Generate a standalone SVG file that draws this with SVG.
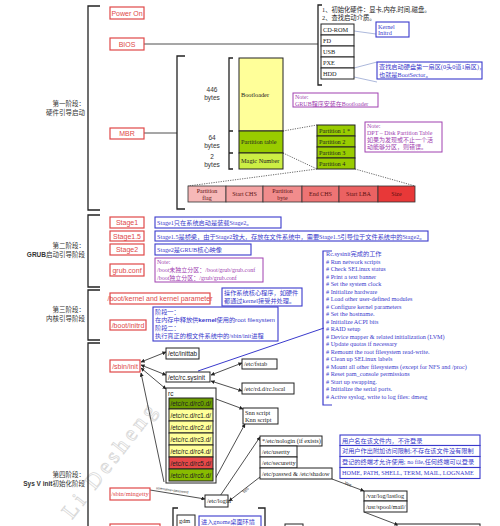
<svg xmlns="http://www.w3.org/2000/svg" width="500" height="526" viewBox="0 0 500 526">
<style>
.bg{fill:#fff}
.rb{fill:#fff;stroke:#e04848;stroke-width:1.2}
.rt{font-family:"Liberation Sans",Arial,sans-serif;font-size:7px;fill:#e04848;text-anchor:middle}
.rs{font-family:"Liberation Serif",serif;font-size:6.5px;fill:#e04848;text-anchor:middle}
.bb{fill:#fff;stroke:#3a3acc;stroke-width:1.1}
.bt{font-family:"Liberation Serif","Noto Sans CJK SC",serif;font-size:6.2px;fill:#3a3acc}
.pb{fill:#fff;stroke:#a040b0;stroke-width:1}
.pt{font-family:"Liberation Serif","Noto Sans CJK SC",serif;font-size:6px;fill:#a040b0}
.kb{stroke:#222;stroke-width:1}
.kt{font-family:"Liberation Serif","Noto Sans CJK SC",serif;font-size:6.3px;fill:#222}
.rcs{font-family:"Liberation Sans",Arial,sans-serif;font-size:6.4px;fill:#222}
.st{font-family:"Liberation Sans",Arial,sans-serif;font-size:6.5px;fill:#333;text-anchor:middle}
.lab{font-family:"Noto Sans CJK SC","Liberation Sans",sans-serif;font-size:6.5px;fill:#333;text-anchor:end}
.br{fill:none;stroke:#222;stroke-width:1.3}
.ln{fill:none;stroke:#222;stroke-width:0.8}
.dot{fill:none;stroke:#444;stroke-width:0.8;stroke-dasharray:1.2,1.2}
.thin{fill:none;stroke:#8899cc;stroke-width:0.7}
.pe{stroke:#333;stroke-width:0.8}
.pet{font-family:"Liberation Serif",serif;font-size:6px;fill:#5a1010;text-anchor:middle}
.wm{font-family:"Liberation Serif",serif;font-size:22px;fill:none;stroke:#d8d8d8;stroke-width:0.8;letter-spacing:4px}
</style>
<defs>
<marker id="ah" viewBox="0 0 10 10" refX="9" refY="5" markerWidth="5" markerHeight="5" orient="auto-start-reverse">
<path d="M0,0 L10,5 L0,10 z" fill="#222"/>
</marker>
</defs>
<rect class="bg" x="0" y="0" width="500" height="526"/>
<text class="wm" transform="translate(72,520) rotate(-52)">Li Desheng</text>

<g id="stage-brackets">
<path class="br" d="M100,6 H88 V210 H100"/>
<path class="br" d="M100,215 H88 V287 H100"/>
<path class="br" d="M100,290 H88 V340 H100"/>
<path class="br" d="M100,343 H88 V526"/>
<text class="lab" x="85" y="106">第一阶段：</text>
<text class="lab" x="85" y="115">硬件引导启动</text>
<text class="lab" x="85" y="248">第二阶段：</text>
<text class="lab" x="85" y="257"><tspan font-weight="bold" font-family="Liberation Sans,sans-serif">GRUB</tspan>启动引导阶段</text>
<text class="lab" x="85" y="312">第三阶段：</text>
<text class="lab" x="85" y="321">内核引导阶段</text>
<text class="lab" x="85" y="477">第四阶段：</text>
<text class="lab" x="85" y="486"><tspan font-weight="bold" font-family="Liberation Sans,sans-serif">Sys V init</tspan>初始化阶段</text>
</g>

<g id="connectors">
<path class="ln" d="M144,44 H318"/>
<path class="br" d="M322,5 H318 V85 H322"/>
<path class="thin" d="M354,31 L376,34"/>
<path class="thin" d="M354,68 L377,62"/>
<path class="thin" d="M354,77 L377,82"/>
<path class="ln" d="M144,133 H177"/>
<path class="br" d="M185,56 H177 V209 H185"/>
<path class="br" d="M233,58 H229 V169 H233 M229,131 H233 M229,153 H233"/>
<path class="dot" d="M283,131 L317,125"/>
<path class="dot" d="M283,153 L317,169"/>
<path class="dot" d="M317,169 L188,186"/>
<path class="dot" d="M355,169 L415,186"/>
<path fill="none" style="stroke:#3a3acc;stroke-width:1" d="M198,371 L324,328"/>
<path class="ln" marker-start="url(#ah)" marker-end="url(#ah)" d="M141,362 L166,352"/>
<path class="ln" marker-start="url(#ah)" marker-end="url(#ah)" d="M141,365 L166,375"/>
<path class="ln" marker-start="url(#ah)" marker-end="url(#ah)" d="M141,368 L166,389"/>
<path class="ln" marker-start="url(#ah)" marker-end="url(#ah)" d="M211,375 L242,363"/>
<path class="ln" marker-start="url(#ah)" marker-end="url(#ah)" d="M211,381 L242,391"/>
<path class="ln" marker-end="url(#ah)" d="M216,399 L243,409"/>
<path class="ln" marker-end="url(#ah)" d="M214,481 L245,424"/>
<path class="ln" marker-start="url(#ah)" d="M141,373 L164,482"/>
<path class="ln" marker-end="url(#ah)" d="M150,490 L205,499"/>
<text font-family="Liberation Sans,sans-serif" font-size="3.5" fill="#333" transform="translate(156,489) rotate(8)">username+password</text>
<path class="ln" marker-end="url(#ah)" d="M220,496 L260,437"/>
<path class="ln" marker-end="url(#ah)" d="M260,477 L229,501"/>
<text font-family="Liberation Sans,sans-serif" font-size="4.5" fill="#333" transform="translate(244,494) rotate(-45)">Yes</text>
<path class="ln" marker-end="url(#ah)" d="M332,479 L364,491"/>
<text font-family="Liberation Sans,sans-serif" font-size="4.5" fill="#333" transform="translate(344,484) rotate(22)">Yes</text>
<path class="ln" marker-end="url(#ah)" d="M364,512 L398,525"/>
<path class="br" d="M178,508 H173 V526"/>
<path class="br" d="M258,508 H265 V526"/>
</g>

<g id="power-on"><rect class="rb" x="110" y="7" width="34" height="12"/><text class="rt" x="127" y="15.5">Power On</text></g>
<g id="bios"><rect class="rb" x="110" y="38" width="34" height="12"/><text class="rt" x="127" y="46.5">BIOS</text></g>
<g id="bios-tasks">
<text class="kt" x="322" y="11.5" font-size="5.8">1、初始化硬件：显卡,内存,时间,磁盘。</text>
<text class="kt" x="322" y="19.5" font-size="5.8">2、查找启动介质。</text>
</g>
<g id="boot-media">
<rect class="kb" fill="#fff" x="321" y="24" width="33" height="11"/><text class="kt" x="323" y="31.8">CD-ROM</text>
<rect class="kb" fill="#fff" x="321" y="35" width="33" height="11"/><text class="kt" x="323" y="42.8">FD</text>
<rect class="kb" fill="#fff" x="321" y="46" width="33" height="11"/><text class="kt" x="323" y="53.8">USB</text>
<rect class="kb" fill="#fff" x="321" y="57" width="33" height="11"/><text class="kt" x="323" y="64.8">PXE</text>
<rect class="kb" fill="#fff" x="321" y="68" width="33" height="11"/><text class="kt" x="323" y="75.8">HDD</text>
</g>
<g id="kernel-initrd"><rect class="bb" x="376" y="22" width="33" height="15"/><text class="bt" x="378" y="28.5">Kernel</text><text class="bt" x="378" y="35">Initrd</text></g>
<g id="hdd-note"><rect class="bb" x="377" y="62" width="105" height="17"/><text class="bt" x="379" y="69">查找启动硬盘第一扇区(0头0道1扇区)，</text><text class="bt" x="379" y="77">也就是BootSector。</text></g>

<g id="mbr"><rect class="rb" x="110" y="128" width="34" height="11"/><text class="rt" x="127" y="136">MBR</text></g>
<g id="mbr-layout">
<text class="st" x="212" y="92">446</text><text class="st" x="212" y="100">bytes</text>
<text class="st" x="212" y="140">64</text><text class="st" x="212" y="148">bytes</text>
<text class="st" x="212" y="159">2</text><text class="st" x="212" y="167">bytes</text>
<rect class="kb" fill="#ffff99" x="239" y="58" width="44" height="73"/><text class="kt" x="241" y="97">Bootloader</text>
<rect class="kb" fill="#99cc00" x="239" y="131" width="44" height="22"/><text class="kt" x="241" y="144">Partition table</text>
<rect class="kb" fill="#ccee44" x="239" y="153" width="44" height="16"/><text class="kt" x="241" y="163">Magic Number</text>
</g>
<g id="grub-note"><rect class="pb" x="293" y="93" width="85" height="14"/><text class="pt" x="295" y="99">Note:</text><text class="pt" x="295" y="105.5">GRUB程序安装在Bootloader</text></g>
<g id="partitions">
<rect class="kb" fill="#99cc00" x="317" y="125" width="38" height="11"/><text class="kt" x="319" y="132.5">Partition 1 *</text>
<rect class="kb" fill="#99cc00" x="317" y="136" width="38" height="11"/><text class="kt" x="319" y="143.5">Partition 2</text>
<rect class="kb" fill="#99cc00" x="317" y="147" width="38" height="11"/><text class="kt" x="319" y="154.5">Partition 3</text>
<rect class="kb" fill="#99cc00" x="317" y="158" width="38" height="11"/><text class="kt" x="319" y="165.5">Partition 4</text>
</g>
<g id="dpt-note"><rect class="pb" x="365" y="122" width="77" height="30"/>
<text class="pt" x="367" y="128">Note:</text>
<text class="pt" x="367" y="135">DPT – Disk Partition Table</text>
<text class="pt" x="367" y="142">如果为发现或不止一个活</text>
<text class="pt" x="367" y="149">动能够分区，则错误。</text></g>
<g id="partition-entry">
<rect class="pe" fill="#f6b8b8" x="188" y="186" width="38" height="16"/><text class="pet" x="207" y="193">Partition</text><text class="pet" x="207" y="200">flag</text>
<rect class="pe" fill="#f4a4a4" x="226" y="186" width="37" height="16"/><text class="pet" x="244.5" y="196">Start CHS</text>
<rect class="pe" fill="#f18c8c" x="263" y="186" width="39" height="16"/><text class="pet" x="282.5" y="193">Partition</text><text class="pet" x="282.5" y="200">byte</text>
<rect class="pe" fill="#ee7474" x="302" y="186" width="37" height="16"/><text class="pet" x="320.5" y="196">End CHS</text>
<rect class="pe" fill="#eb6262" x="339" y="186" width="39" height="16"/><text class="pet" x="358.5" y="196">Start LBA</text>
<rect class="pe" fill="#e83838" x="378" y="186" width="37" height="16"/><text class="pet" x="396.5" y="196">Size</text>
</g>

<g id="stage1"><rect class="rb" x="110" y="217" width="34" height="11"/><text class="rt" x="127" y="225">Stage1</text></g>
<g id="stage1-note"><rect class="bb" x="155" y="217" width="126" height="11"/><text class="bt" x="157" y="225">Stage1只在系统启动是装载Stage2。</text></g>
<g id="stage15"><rect class="rb" x="110" y="231" width="34" height="10"/><text class="rt" x="127" y="238.5">Stage1.5</text></g>
<g id="stage15-note"><rect class="bb" x="155" y="231" width="273" height="10"/><text class="bt" x="157" y="238.5" font-size="6">Stage1.5是桥梁，由于Stage2较大，存放在文件系统中，需要Stage1.5引导位于文件系统中的Stage2。</text></g>
<g id="stage2"><rect class="rb" x="110" y="244" width="34" height="11"/><text class="rt" x="127" y="252">Stage2</text></g>
<g id="stage2-note"><rect class="bb" x="155" y="244" width="96" height="11"/><text class="bt" x="157" y="252">Stage2是GRUB核心映像</text></g>
<g id="grub-conf"><rect class="rb" x="110" y="264" width="34" height="12"/><text class="rt" x="127" y="272.5">grub.conf</text></g>
<g id="grub-conf-note"><rect class="pb" x="155" y="258" width="108" height="24"/>
<text class="pt" x="157" y="264">Note:</text>
<text class="pt" x="157" y="272">/boot未独立分区：/boot/grub/grub.conf</text>
<text class="pt" x="157" y="279.5">/boot独立分区：/grub/grub.conf</text></g>

<g id="kernel"><rect class="rb" x="110" y="293" width="100" height="11"/><text class="rt" x="160" y="301" font-size="5.9">/boot/kernel and kernel parameter</text></g>
<g id="kernel-note"><rect class="bb" x="222" y="288" width="80" height="18"/><text class="bt" x="224" y="295">操作系统核心程序，如硬件</text><text class="bt" x="224" y="303">都通过kernel接受并处理。</text></g>
<g id="initrd"><rect class="rb" x="110" y="320" width="36" height="10"/><text class="rt" x="128" y="327.5">/boot/initrd</text></g>
<g id="initrd-note"><rect class="bb" x="153" y="307" width="125" height="34"/>
<text class="bt" x="155" y="313.5">阶段一：</text>
<text class="bt" x="155" y="321.5">在内存中释放供<tspan font-weight="bold" font-family="Liberation Sans,sans-serif">kernel</tspan>使用的<tspan font-family="Liberation Sans,sans-serif">root filesystem</tspan></text>
<text class="bt" x="155" y="329.5">阶段二：</text>
<text class="bt" x="155" y="337.5">执行真正的根文件系统中的/sbin/init进程</text></g>

<g id="sbin-init"><rect class="rb" x="110" y="360" width="30" height="12"/><text class="rt" x="125" y="368.5">/sbin/init</text></g>
<g id="inittab"><rect class="kb" fill="#fff" x="166" y="348" width="33" height="11"/><text class="rcs" x="168" y="356">/etc/inittab</text></g>
<g id="rc-sysinit"><rect class="kb" fill="#fff" x="166" y="372" width="44" height="10"/><text class="rcs" x="168" y="379.5">/etc/rc.sysinit</text></g>
<g id="fstab"><rect class="kb" fill="#fff" x="242" y="359" width="35" height="10"/><text class="kt" x="244" y="366.3">/etc/fstab</text></g>
<g id="rc-local"><rect class="kb" fill="#fff" x="242" y="383" width="52" height="11"/><text class="kt" x="244" y="390.8">/etc/rd.d/rc.local</text></g>
<g id="snn"><rect class="kb" fill="#fff" x="243" y="408" width="35" height="16"/><text class="kt" x="245" y="414.5">Snn script</text><text class="kt" x="245" y="421.5">Knn script</text></g>
<g id="rc">
<rect class="kb" fill="#fff" x="166" y="388" width="50" height="95"/>
<text class="rcs" x="168" y="396">rc</text>
<rect class="kb" fill="#6b9c00" x="169" y="398" width="44" height="11"/><text class="rcs" x="170.5" y="406">/etc/rc.d/rc0.d/</text>
<rect class="kb" fill="#ffff99" x="169" y="409" width="44" height="12"/><text class="rcs" x="170.5" y="417.5">/etc/rc.d/rc1.d/</text>
<rect class="kb" fill="#ffff99" x="169" y="421" width="44" height="12"/><text class="rcs" x="170.5" y="429.5">/etc/rc.d/rc2.d/</text>
<rect class="kb" fill="#ffff99" x="169" y="433" width="44" height="12"/><text class="rcs" x="170.5" y="441.5">/etc/rc.d/rc3.d/</text>
<rect class="kb" fill="#ffff99" x="169" y="445" width="44" height="12"/><text class="rcs" x="170.5" y="453.5">/etc/rc.d/rc4.d/</text>
<rect class="kb" fill="#e84848" x="169" y="457" width="44" height="12"/><text class="rcs" x="170.5" y="465.5">/etc/rc.d/rc5.d/</text>
<rect class="kb" fill="#88bb00" x="169" y="469" width="44" height="12"/><text class="rcs" x="170.5" y="477.5">/etc/rc.d/rc6.d/</text>
</g>
<g id="sysinit-note">
<path fill="none" stroke="#3a3acc" stroke-width="1.2" d="M332,251 H323 V405 H332"/>
<text class="bt" x="326" y="256">Rc.sysinit完成的工作</text>
<text class="bt" x="326" y="263.5"># Run network scripts</text>
<text class="bt" x="326" y="271"># Check SELinux status</text>
<text class="bt" x="326" y="278.5"># Print a text banner</text>
<text class="bt" x="326" y="286"># Set the system clock</text>
<text class="bt" x="326" y="293.5"># Initialize hardware</text>
<text class="bt" x="326" y="301"># Load other user-defined modules</text>
<text class="bt" x="326" y="308.5"># Configure kernel parameters</text>
<text class="bt" x="326" y="316"># Set the hostname.</text>
<text class="bt" x="326" y="323.5"># Initialize ACPI bits</text>
<text class="bt" x="326" y="331"># RAID setup</text>
<text class="bt" x="326" y="338.5"># Device mapper &amp; related initialization (LVM)</text>
<text class="bt" x="326" y="346"># Update quotas if necessary</text>
<text class="bt" x="326" y="353.5"># Remount the root filesystem read-write.</text>
<text class="bt" x="326" y="361"># Clean up SELinux labels</text>
<text class="bt" x="326" y="368.5"># Mount all other filesystems (except for NFS and /proc)</text>
<text class="bt" x="326" y="376"># Reset pam_console permissions</text>
<text class="bt" x="326" y="383.5"># Start up swapping.</text>
<text class="bt" x="326" y="391"># Initialize the serial ports.</text>
<text class="bt" x="326" y="398.5"># Active syslog, write to log files: dmesg</text>
</g>

<g id="login-checks">
<rect class="kb" fill="#fff" x="260" y="436" width="62" height="10"/><text class="kt" x="262" y="443.3">*/etc/nologin (if exists)</text>
<rect class="kb" fill="#fff" x="260" y="446" width="37" height="11"/><text class="kt" x="262" y="453.8">/etc/usertty</text>
<rect class="kb" fill="#fff" x="260" y="457" width="37" height="11"/><text class="kt" x="262" y="464.8">/etc/securetty</text>
<rect class="kb" fill="#fff" x="260" y="468" width="72" height="11"/><text class="kt" x="262" y="475.8">/etc/passwd &amp; /etc/shadow</text>
</g>
<g id="login-notes">
<rect class="bb" x="340" y="435" width="140" height="10.5"/><text class="bt" x="342" y="442.5">用户名在该文件内，不许登录</text>
<rect class="bb" x="340" y="445.5" width="140" height="11"/><text class="bt" x="342" y="453.3">对用户作出附加访问限制;不存在该文件没有限制</text>
<rect class="bb" x="340" y="456.5" width="140" height="11"/><text class="bt" x="342" y="464.3">登记的终端才允许使用; no file,任何终端可以登录</text>
<rect class="bb" x="340" y="467.5" width="140" height="11"/><text class="bt" x="342" y="475.3">HOME, PATH, SHELL, TERM, MAIL, LOGNAME</text>
</g>
<g id="lastlog">
<rect class="kb" fill="#fff" x="364" y="491" width="43" height="10"/><text class="kt" x="366" y="498.3">/var/log/lastlog</text>
<rect class="kb" fill="#fff" x="364" y="501" width="43" height="11"/><text class="kt" x="366" y="508.8">/usr/spool/mail/</text>
</g>
<g id="mingetty"><rect class="rb" x="110" y="488" width="40" height="12"/><text class="rs" x="130" y="496.3">/sbin/mingetty</text></g>
<g id="etc-login"><rect class="kb" fill="#fff" x="205" y="495" width="23" height="12"/><text class="kt" x="207" y="503">/etc/login</text></g>
<g id="gdm"><rect class="kb" fill="#fff" x="177" y="515" width="18" height="14"/><text class="kt" x="179" y="523">gdm</text></g>
<g id="gdm-note"><rect class="bb" x="199" y="516" width="62" height="12"/><text class="bt" x="201" y="523.5">进入gnome桌面环境</text></g>
<g id="bottom-red"><rect class="rb" x="110" y="524" width="50" height="6"/></g>
<g id="bottom-box"><rect class="kb" fill="#fff" x="285" y="524" width="18" height="6" stroke-width="1.5"/></g>
<g id="bottom-right"><rect class="kb" fill="#fff" x="397" y="524" width="83" height="6"/></g>
</svg>
